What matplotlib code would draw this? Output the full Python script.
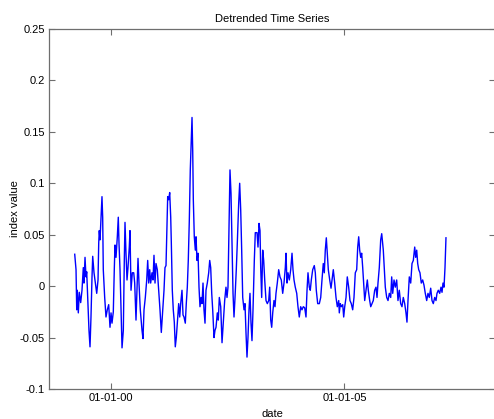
import matplotlib
matplotlib.use("Agg")
import matplotlib.pyplot as plt
import matplotlib.dates as mdates
import numpy as np
import pandas as pd

plt.rcParams['font.family'] = ['Liberation Sans', 'DejaVu Sans']

# decimal-year positions of the samples
years = [
 1999.215, 1999.243, 1999.258, 1999.270, 1999.292, 1999.313, 1999.343, 1999.371, 1999.399, 1999.414,
 1999.436, 1999.457, 1999.472, 1999.494, 1999.521, 1999.543, 1999.564, 1999.586, 1999.601, 1999.629,
 1999.657, 1999.687, 1999.715, 1999.730, 1999.742, 1999.758, 1999.779, 1999.800, 1999.815, 1999.828,
 1999.858, 1999.886, 1999.914, 1999.944, 1999.972, 1999.994, 2000.015, 2000.043, 2000.064, 2000.079,
 2000.101, 2000.129, 2000.150, 2000.165, 2000.187, 2000.208, 2000.230, 2000.258, 2000.279, 2000.294,
 2000.315, 2000.337, 2000.358, 2000.386, 2000.401, 2000.423, 2000.451,
 2000.481, 2000.502, 2000.530, 2000.552, 2000.573, 2000.594, 2000.622, 2000.659, 2000.680, 2000.702,
 2000.730, 2000.760, 2000.781, 2000.803, 2000.824, 2000.845, 2000.873, 2000.895, 2000.916, 2000.938,
 2000.959, 2000.987, 2001.017, 2001.045, 2001.073, 2001.103, 2001.131, 2001.152, 2001.174, 2001.195,
 2001.210, 2001.232, 2001.253, 2001.275, 2001.288, 2001.309, 2001.330, 2001.352, 2001.373, 2001.395,
 2001.416, 2001.446, 2001.468, 2001.489, 2001.517, 2001.539, 2001.560, 2001.588, 2001.609, 2001.631,
 2001.652, 2001.674, 2001.695, 2001.717, 2001.732, 2001.747, 2001.760, 2001.781, 2001.803,
 2001.818, 2001.839, 2001.861, 2001.882, 2001.903, 2001.925, 2001.946, 2001.968, 2001.989, 2002.011,
 2002.032, 2002.060, 2002.090, 2002.112, 2002.133, 2002.155, 2002.176, 2002.204, 2002.225, 2002.247,
 2002.275, 2002.296, 2002.318, 2002.348, 2002.376, 2002.403, 2002.433, 2002.461, 2002.483, 2002.504,
 2002.526, 2002.547, 2002.569, 2002.590, 2002.612, 2002.633, 2002.655, 2002.682, 2002.704, 2002.734,
 2002.755, 2002.777, 2002.798, 2002.820, 2002.848, 2002.869, 2002.891, 2002.912, 2002.933, 2002.955,
 2002.976, 2002.998, 2003.019, 2003.041, 2003.069, 2003.090,
 2003.127, 2003.148, 2003.170, 2003.191, 2003.206, 2003.227, 2003.249, 2003.270, 2003.292, 2003.320,
 2003.348, 2003.378, 2003.399, 2003.421, 2003.442, 2003.464, 2003.491, 2003.513, 2003.534, 2003.562,
 2003.592, 2003.620, 2003.648, 2003.678, 2003.706, 2003.734, 2003.749, 2003.770, 2003.792, 2003.820,
 2003.850, 2003.878, 2003.899, 2003.921, 2003.948, 2003.979, 2004.006, 2004.034, 2004.064, 2004.092,
 2004.120, 2004.150, 2004.178, 2004.200, 2004.221, 2004.249, 2004.270, 2004.292, 2004.322, 2004.356,
 2004.378, 2004.399, 2004.429,
 2004.464, 2004.494, 2004.521, 2004.549, 2004.571, 2004.592, 2004.614, 2004.635, 2004.657, 2004.687,
 2004.715, 2004.736, 2004.764, 2004.794, 2004.822, 2004.850, 2004.880, 2004.893, 2004.914, 2004.936,
 2004.966, 2004.987, 2005.009, 2005.037, 2005.064, 2005.094, 2005.122, 2005.150, 2005.180, 2005.208,
 2005.236, 2005.266, 2005.288, 2005.309, 2005.330, 2005.352, 2005.373, 2005.395, 2005.416, 2005.438,
 2005.466, 2005.494, 2005.515, 2005.545, 2005.567, 2005.594, 2005.622, 2005.652, 2005.680, 2005.702,
 2005.723, 2005.751,
 2005.781, 2005.803, 2005.837, 2005.858, 2005.880, 2005.910, 2005.938, 2005.966, 2005.996, 2006.017,
 2006.039, 2006.067, 2006.094, 2006.124, 2006.152, 2006.180, 2006.210, 2006.238, 2006.266, 2006.296,
 2006.324, 2006.345, 2006.367, 2006.395, 2006.425, 2006.453, 2006.481, 2006.511, 2006.532, 2006.554,
 2006.575, 2006.597, 2006.624, 2006.652, 2006.682, 2006.710, 2006.738, 2006.768, 2006.796, 2006.824,
 2006.854, 2006.882, 2006.910, 2006.940, 2006.968, 2006.989, 2007.017, 2007.047, 2007.075, 2007.097,
 2007.118, 2007.140, 2007.161, 2007.182,
]

index_values = [
 0.031, 0.016, -0.023, -0.004, -0.026, -0.006, -0.016, -0.004, 0.018, 0.003,
 0.028, 0.009, 0.014, -0.011, -0.043, -0.059, -0.030, 0.009, 0.029, 0.013,
 0.003, -0.007, 0.006, 0.042, 0.054, 0.045, 0.067, 0.087, 0.067, 0.016,
 -0.011, -0.030, -0.023, -0.018, -0.040, -0.026, -0.036, -0.025, 0.016, 0.040,
 0.028, 0.048, 0.067, 0.042, 0.016, -0.023, -0.060, -0.043, 0.025, 0.062,
 0.032, 0.006, 0.018, 0.038, 0.054, -0.004, 0.013,
 0.013, 0.003, -0.033, -0.001, 0.027, 0.003, -0.023, -0.043, -0.051, -0.023,
 -0.011, 0.006, 0.025, 0.003, 0.016, 0.003, 0.013, 0.006, 0.030, 0.003,
 0.022, 0.016, -0.004, -0.023, -0.045, -0.023, -0.004, 0.018, 0.020, 0.061,
 0.087, 0.084, 0.091, 0.067, 0.042, -0.004, -0.023, -0.035, -0.059, -0.050,
 -0.036, -0.017, -0.030, -0.017, -0.004, -0.028, -0.030, -0.036, -0.017, -0.001,
 0.025, 0.064, 0.113, 0.145, 0.164, 0.132, 0.084, 0.048, 0.035,
 0.048, 0.025, 0.032, -0.001, -0.020, -0.011, -0.017, 0.003, -0.023, -0.036,
 -0.004, 0.003, 0.013, 0.025, 0.018, -0.007, -0.023, -0.050, -0.043, -0.040,
 -0.026, -0.033, -0.011, -0.020, -0.055, -0.036, -0.014, -0.001, -0.011, -0.001,
 0.057, 0.113, 0.090, 0.042, -0.007, -0.030, -0.011, 0.016, 0.042, 0.081,
 0.100, 0.074, 0.035, -0.011, -0.023, -0.017, -0.046, -0.069, -0.050, -0.023,
 -0.007, -0.036, -0.053, -0.023, 0.025, 0.052,
 0.052, 0.038, 0.061, 0.054, 0.018, -0.011, 0.035, 0.025, 0.006, -0.014,
 -0.017, -0.014, -0.001, -0.033, -0.040, -0.026, -0.014, -0.020, -0.007, 0.003,
 0.016, 0.009, 0.006, -0.007, 0.003, 0.018, 0.032, 0.003, 0.013, 0.006,
 0.016, 0.032, 0.016, 0.006, -0.001, -0.007, -0.020, -0.030, -0.020, -0.023,
 -0.020, -0.021, -0.030, -0.004, 0.013, -0.001, -0.004, 0.006, 0.016, 0.020,
 0.013, -0.004, -0.017,
 -0.017, -0.011, 0.006, 0.022, 0.013, 0.035, 0.047, 0.032, 0.016, 0.006,
 -0.002, 0.006, 0.016, 0.003, -0.011, -0.020, -0.014, -0.026, -0.017, -0.020,
 -0.018, -0.030, -0.020, -0.011, 0.009, -0.001, -0.014, -0.017, -0.023, -0.011,
 0.013, 0.016, 0.038, 0.048, 0.035, 0.028, 0.032, 0.018, 0.003, -0.014,
 -0.004, 0.006, -0.004, -0.014, -0.020, -0.017, -0.014, -0.004, -0.001, -0.011,
 0.003, 0.018,
 0.045, 0.051, 0.035, 0.018, -0.001, -0.011, -0.014, -0.007, -0.011, 0.009,
 -0.007, 0.006, -0.001, 0.006, -0.014, -0.004, -0.017, -0.020, -0.011, -0.017,
 -0.026, -0.035, -0.014, 0.009, 0.003, 0.022, 0.025, 0.038, 0.028, 0.035,
 0.022, 0.016, 0.013, 0.003, 0.006, 0.001, -0.007, -0.014, -0.007, -0.011,
 -0.002, -0.014, -0.017, -0.011, -0.014, -0.007, -0.004, -0.007, -0.001, -0.006,
 0.003, -0.001, 0.018, 0.047,
]

y_ticks = [-0.1, -0.05, 0, 0.05, 0.1, 0.15, 0.2, 0.25]
y_tick_labels = ['-0.1', '-0.05', '0', '0.05', '0.1', '0.15', '0.2', '0.25']
x_limits_years = [1998.663, 2008.234]
title = 'Detrended Time Series'
x_label = 'date'
y_label = 'index value'


def to_dates(yrs):
    base = pd.Timestamp('2000-01-01')
    return [base + pd.to_timedelta((y - 2000.0) * 365.25, unit='D') for y in yrs]


dates = to_dates(years)

fig = plt.figure(figsize=(4.94, 4.19), dpi=100)
ax = fig.add_axes([49 / 494, 30 / 419, 446 / 494, 360 / 419])

ax.plot(dates, index_values, color='#0000ff', linewidth=1.0)

xl = to_dates(x_limits_years)
ax.set_xlim(xl[0], xl[1])
ax.set_ylim(-0.1, 0.25)
ax.set_yticks(y_ticks)
ax.set_yticklabels(y_tick_labels)
ax.xaxis.set_major_locator(mdates.YearLocator(5))
ax.xaxis.set_major_formatter(mdates.DateFormatter('%m-%d-%y'))

spine_color = '#6e6e6e'
for s in ax.spines.values():
    s.set_color(spine_color)
    s.set_linewidth(0.9)
ax.tick_params(direction='in', top=True, right=True, length=4, width=0.8,
               color=spine_color, labelsize=8, pad=3, labelcolor='black')

ax.set_title(title, fontsize=8, pad=5)
ax.set_xlabel(x_label, fontsize=8, labelpad=4)
ax.set_ylabel(y_label, fontsize=8)
ax.yaxis.set_label_coords(-29 / 446, 0.5)

fig.savefig('out.png', dpi=100)
